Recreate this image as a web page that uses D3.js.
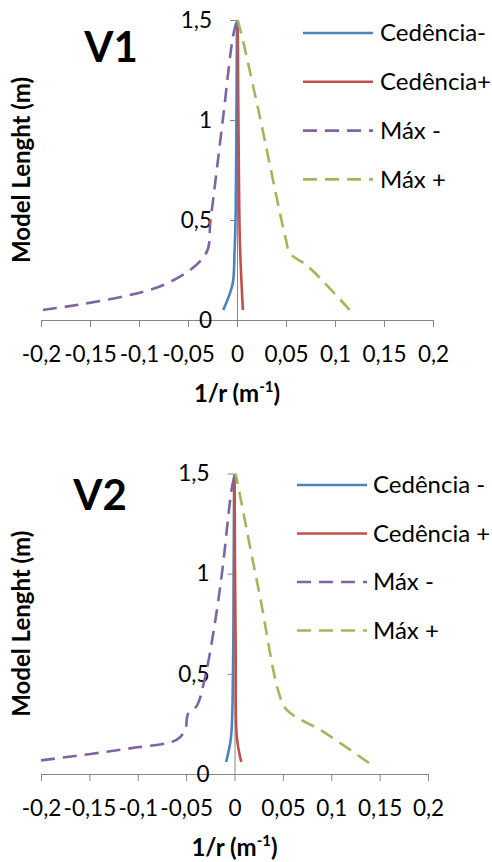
<!DOCTYPE html>
<html><head><meta charset="utf-8">
<script src="https://cdn.jsdelivr.net/npm/d3@7"></script>
<style>
html,body{margin:0;padding:0;background:#fff;}
svg{display:block;}
text{font-family:Lato,"Open Sans",sans-serif;fill:#000;}
</style></head>
<body><svg id="chart" width="492" height="862"></svg>
<script>
// ---------- DATA ----------
const xTicks = [-0.2, -0.15, -0.1, -0.05, 0, 0.05, 0.1, 0.15, 0.2];
const yTicks = [0, 0.5, 1, 1.5];
const seriesColors = ["#4F81BD", "#C0504D", "#8064A2", "#9BBB59"];
const seriesDashed = [false, false, true, true];
const v1Names = ["Cedência-", "Cedência+", "Máx -", "Máx +"];
const v2Names = ["Cedência -", "Cedência +", "Máx -", "Máx +"];

// [1/r (m^-1), length (m)]
const v1CedMinus = [[-0.014,0.05],[-0.0045,0.18],[-0.0026,0.33],[-0.0013,0.55],[-0.0006,1.0],[0,1.5]];
const v1CedPlus  = [[0.006,0.05],[0.003,0.38],[0.0018,0.8],[0.0007,1.5]];
const v1MaxMinus = [[-0.198,0.05],[-0.075,0.175],[-0.032,0.33],[-0.027,0.5],[-0.0145,1.0],[-0.004,1.42],[0,1.5]];
const v1MaxPlus  = [[0.115,0.05],[0.072,0.27],[0.054,0.333],[0.05,0.4],[0.0218,1.05],[0.005,1.42],[0.0007,1.5]];

const v2CedMinus = [[-0.0087,0.06],[-0.0037,0.18],[-0.0016,0.5],[-0.0009,1.0],[-0.0004,1.49]];
const v2CedPlus  = [[0.007,0.06],[0.0025,0.18],[0.0012,0.6],[0,1.495]];
const v2MaxMinus = [[-0.2,0.068],[-0.108,0.128],[-0.06,0.17],[-0.051,0.22],[-0.048,0.3],[-0.039,0.34],[-0.031,0.47],[-0.0217,0.71],[-0.013,1.0],[-0.003,1.42],[0,1.49]];
const v2MaxPlus  = [[0.139,0.055],[0.092,0.21],[0.054,0.32],[0.0455,0.41],[0.0266,0.88],[0.0162,1.13],[0.0035,1.445],[0.001,1.5]];

const panels = [
  {title:"V1", names:v1Names, data:[v1CedMinus,v1CedPlus,v1MaxMinus,v1MaxPlus],
   x0:41, x1:433, yTop:20, yBot:320, titleX:111, titleY:62, legX:303, legY:33, legGap:48.8, legTextX:380, xLabY:402},
  {title:"V2", names:v2Names, data:[v2CedMinus,v2CedPlus,v2MaxMinus,v2MaxPlus],
   x0:41, x1:428, yTop:473.5, yBot:774, titleX:100, titleY:510, legX:297, legY:485, legGap:48.5, legTextX:373, xLabY:856}
];

const fmt = d => String(d).replace(".", ",");
const svg = d3.select("#chart");

panels.forEach((p, pi) => {
  const x = d3.scaleLinear().domain([-0.2, 0.2]).range([p.x0, p.x1]);
  const y = d3.scaleLinear().domain([0, 1.5]).range([p.yBot, p.yTop]);
  const g = svg.append("g");

  const xa = g.append("g").attr("transform", `translate(0,${y(0)})`)
    .call(d3.axisBottom(x).tickValues(xTicks).tickFormat(fmt).tickSize(7).tickSizeOuter(0).tickPadding(19));
  const ya = g.append("g").attr("transform", `translate(${x(0)},0)`)
    .call(d3.axisLeft(y).tickValues(yTicks).tickFormat(fmt).tickSize(7).tickSizeOuter(0).tickPadding(18));
  [xa, ya].forEach(a => {
    a.select(".domain").attr("stroke", "#868686").attr("stroke-width", 1);
    a.selectAll(".tick line").attr("stroke", "#868686").attr("stroke-width", 1);
    a.selectAll(".tick text").attr("font-size", 22.5).attr("font-family", "Lato, sans-serif").attr("fill", "#000");
  });
  ya.raise();

  const line = d3.line().x(d => x(d[0])).y(d => y(d[1])).curve(d3.curveCatmullRom.alpha(0.5));
  p.data.forEach((s, i) => {
    g.append("path").datum(s).attr("d", line)
      .attr("fill", "none").attr("stroke", seriesColors[i]).attr("stroke-width", 2.6)
      .attr("stroke-dasharray", seriesDashed[i] ? "14,8" : null);
  });

  g.append("text").attr("x", p.titleX).attr("y", p.titleY).attr("text-anchor", "middle")
    .attr("font-size", 42).attr("font-weight", "bold").text(p.title);

  const midY = (p.yTop + p.yBot) / 2;
  g.append("text").attr("transform", `translate(30,${midY}) rotate(-90)`).attr("text-anchor", "middle")
    .attr("font-size", 24).attr("font-weight", "bold").text("Model Lenght (m)");
  const xt = g.append("text").attr("x", x(0)).attr("y", p.xLabY).attr("text-anchor", "middle")
    .attr("font-size", 24).attr("font-weight", "bold");
  xt.append("tspan").text("1/r (m");
  xt.append("tspan").attr("font-size", 15).attr("dy", -10).text("-1");
  xt.append("tspan").attr("dy", 10).text(")");

  p.names.forEach((n, i) => {
    const ly = p.legY + i * p.legGap;
    g.append("line").attr("x1", p.legX).attr("x2", p.legX + 70).attr("y1", ly).attr("y2", ly)
      .attr("stroke", seriesColors[i]).attr("stroke-width", 2.6)
      .attr("stroke-dasharray", seriesDashed[i] ? "14,8" : null);
    g.append("text").attr("x", p.legTextX).attr("y", ly).attr("dy", "0.35em")
      .attr("font-size", 24).text(n);
  });
});
</script></body></html>
